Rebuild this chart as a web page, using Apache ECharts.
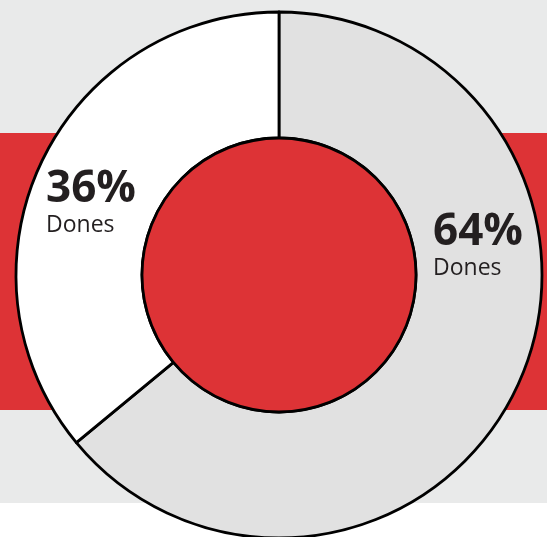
<!DOCTYPE html>
<html><head><meta charset="utf-8">
<script src="https://cdn.jsdelivr.net/npm/echarts@6/dist/echarts.min.js"></script>
<style>html,body{margin:0;padding:0;background:#fff}#c{width:547px;height:537px}</style>
</head><body><div id="c"></div>
<script>
var categories = ['Dones', 'Dones'];
var values = [64, 36];
var labelNames = ['Dones', 'Dones'];

var chart = echarts.init(document.getElementById('c'));
var labelPos = [[433, 209], [46, 166]];
chart.setOption({
  animation: false,
  graphic: [
    {type: 'rect', shape: {x: 0, y: 0, width: 547, height: 503}, style: {fill: '#e9eaea'}, z: -10},
    {type: 'rect', shape: {x: 0, y: 133, width: 547, height: 277}, style: {fill: '#dd3336'}, z: -9}
  ],
  series: [
    {
      type: 'pie',
      center: [279, 275],
      radius: [137, 263],
      startAngle: 90,
      clockwise: true,
      silent: true,
      avoidLabelOverlap: false,
      itemStyle: {borderColor: '#000', borderWidth: 2.8},
      data: values.map(function (v, i) {
        return {value: v, name: categories[i], itemStyle: {color: i === 0 ? '#e1e1e1' : '#ffffff'}};
      }),
      label: {
        show: true,
        position: 'inside',
        formatter: function (p) { return '{a|' + p.value + '%}\n{b|' + labelNames[p.dataIndex] + '}'; },
        rich: {
          a: {fontFamily: 'Open Sans', fontWeight: 'bold', fontSize: 44, color: '#231f20', lineHeight: 46},
          b: {fontFamily: 'Open Sans', fontSize: 23, color: '#231f20', lineHeight: 27}
        }
      },
      labelLine: {show: false},
      labelLayout: function (p) {
        return {x: labelPos[p.dataIndex][0], y: labelPos[p.dataIndex][1], align: 'left', verticalAlign: 'top'};
      }
    },
    {
      type: 'pie',
      center: [279, 275],
      radius: [0, 137],
      silent: true,
      label: {show: false},
      itemStyle: {color: '#dd3336', borderColor: '#000', borderWidth: 2.8},
      data: [{value: 1, name: 'inner'}]
    }
  ]
});
</script></body></html>
